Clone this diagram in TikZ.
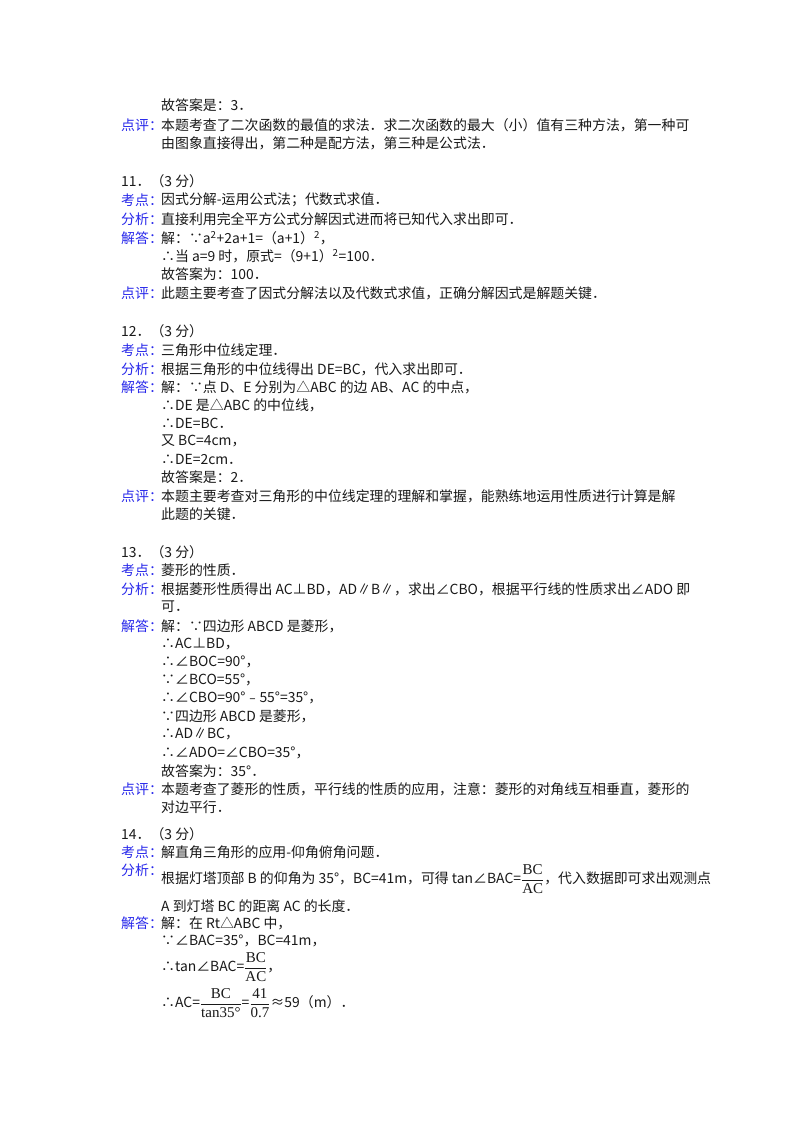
\documentclass[tikz,border=0pt]{standalone}
\usepackage{amsmath}
\usepackage{fontspec}
\setmainfont{Noto Sans CJK SC}
\definecolor{lab}{RGB}{40,40,235}
\definecolor{txt}{RGB}{25,25,25}
\tikzset{t/.style={anchor=west,inner sep=0pt,font=\fontsize{13.9}{15}\selectfont,text=txt},
 lb/.style={t,text=lab}}
\newcommand{\fr}[2]{$\dfrac{\textrm{\fontspec{Liberation Serif}\fontsize{15}{15}\selectfont #1}}{\textrm{\fontspec{Liberation Serif}\fontsize{15}{15}\selectfont #2}}$}
\begin{document}
\begin{tikzpicture}[x=1pt,y=-1pt]
\useasboundingbox[fill=white] (0,0) rectangle (800,1132);
\def\a{161}
\node[t] (n1) at (\a,105) {故答案是：3．};
\node[lb] (n2) at (121,125) {点评：};
\node[t] (n3) at (\a,125) {本题考查了二次函数的最值的求法．求二次函数的最大（小）值有三种方法，第一种可};
\node[t] (n4) at (\a,143) {由图象直接得出，第二种是配方法，第三种是公式法．};
\node[t] (n5) at (121,181) {11．（3 分）};
\node[lb] (n6) at (121,200) {考点：};
\node[t] (n7) at (\a,200) {因式分解-运用公式法；代数式求值．};
\node[lb] (n8) at (121,219) {分析：};
\node[t] (n9) at (\a,219) {直接利用完全平方公式分解因式进而将已知代入求出即可．};
\node[lb] (n10) at (121,238) {解答：};
\node[t] (n11) at (\a,238) {解：∵a\textsuperscript{2}+2a+1=（a+1）\textsuperscript{2}，};
\node[t] (n12) at (\a,256) {∴当 a=9 时，原式=（9+1）\textsuperscript{2}=100．};
\node[t] (n13) at (\a,274) {故答案为：100．};
\node[lb] (n14) at (121,293) {点评：};
\node[t] (n15) at (\a,293) {此题主要考查了因式分解法以及代数式求值，正确分解因式是解题关键．};
\node[t] (n16) at (121,331) {12．（3 分）};
\node[lb] (n17) at (121,350) {考点：};
\node[t] (n18) at (\a,350) {三角形中位线定理．};
\node[lb] (n19) at (121,369) {分析：};
\node[t] (n20) at (\a,369) {根据三角形的中位线得出 DE=BC，代入求出即可．};
\node[lb] (n21) at (121,387) {解答：};
\node[t] (n22) at (\a,387) {解：∵点 D、E 分别为△ABC 的边 AB、AC 的中点，};
\node[t] (n23) at (\a,405) {∴DE 是△ABC 的中位线，};
\node[t] (n24) at (\a,423) {∴DE=BC．};
\node[t] (n25) at (\a,441) {又 BC=4cm，};
\node[t] (n26) at (\a,459) {∴DE=2cm．};
\node[t] (n27) at (\a,477) {故答案是：2．};
\node[lb] (n28) at (121,496) {点评：};
\node[t] (n29) at (\a,496) {本题主要考查对三角形的中位线定理的理解和掌握，能熟练地运用性质进行计算是解};
\node[t] (n30) at (\a,514) {此题的关键．};
\node[t] (n31) at (121,552) {13．（3 分）};
\node[lb] (n32) at (121,570) {考点：};
\node[t] (n33) at (\a,570) {菱形的性质．};
\node[lb] (n34) at (121,589) {分析：};
\node[t] (n35) at (\a,589) {根据菱形性质得出 AC⊥BD，AD∥B∥，求出∠CBO，根据平行线的性质求出∠ADO 即};
\node[t] (n36) at (\a,607) {可．};
\node[lb] (n37) at (121,626) {解答：};
\node[t] (n38) at (\a,626) {解：∵四边形 ABCD 是菱形，};
\node[t] (n39) at (\a,644) {∴AC⊥BD，};
\node[t] (n40) at (\a,662) {∴∠BOC=90°，};
\node[t] (n41) at (\a,680) {∵∠BCO=55°，};
\node[t] (n42) at (\a,698) {∴∠CBO=90°﹣55°=35°，};
\node[t] (n43) at (\a,716) {∵四边形 ABCD 是菱形，};
\node[t] (n44) at (\a,734) {∴AD∥BC，};
\node[t] (n45) at (\a,753) {∴∠ADO=∠CBO=35°，};
\node[t] (n46) at (\a,771) {故答案为：35°．};
\node[lb] (n47) at (121,789) {点评：};
\node[t] (n48) at (\a,789) {本题考查了菱形的性质，平行线的性质的应用，注意：菱形的对角线互相垂直，菱形的};
\node[t] (n49) at (\a,807) {对边平行．};
\node[t] (n50) at (121,834) {14．（3 分）};
\node[lb] (n51) at (121,852) {考点：};
\node[t] (n52) at (\a,852) {解直角三角形的应用-仰角俯角问题．};
\node[lb] (n53) at (121,870) {分析：};
\node[t] (n54) at (\a,879) {根据灯塔顶部 B 的仰角为 35°，BC=41m，可得 tan∠BAC=\fr{BC}{AC}，代入数据即可求出观测点};
\node[t] (n55) at (\a,906) {A 到灯塔 BC 的距离 AC 的长度．};
\node[lb] (n56) at (121,923) {解答：};
\node[t] (n57) at (\a,923) {解：在 Rt△ABC 中，};
\node[t] (n58) at (\a,941) {∵∠BAC=35°，BC=41m，};
\node[t] (n59) at (\a,967) {∴tan∠BAC=\fr{BC}{AC}，};
\node[t] (n60) at (\a,1003) {∴AC=\fr{BC}{tan35°}=\fr{41}{0.7}≈59（m）．};
\end{tikzpicture}
\end{document}
